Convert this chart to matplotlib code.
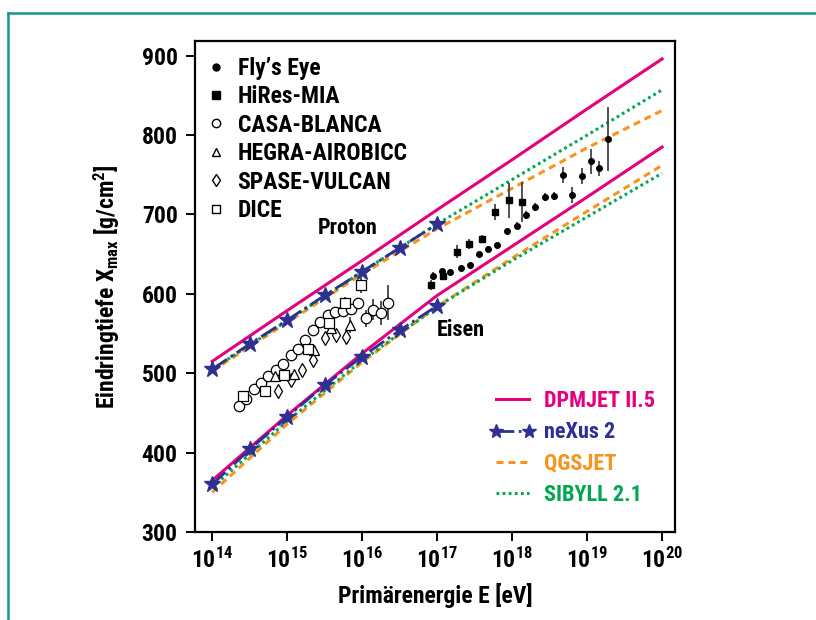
import numpy as np
import matplotlib.pyplot as plt
from matplotlib.lines import Line2D
from matplotlib.ticker import FixedLocator, FuncFormatter

plt.rcParams['font.family'] = ['Roboto Condensed', 'DejaVu Sans']
plt.rcParams['font.weight'] = 'bold'
plt.rcParams['axes.labelweight'] = 'bold'
plt.rcParams['mathtext.fontset'] = 'custom'
plt.rcParams['mathtext.rm'] = 'Roboto Condensed:bold'
plt.rcParams['mathtext.it'] = 'Roboto Condensed:bold'
plt.rcParams['mathtext.bf'] = 'Roboto Condensed:bold'

# model curves (log10 E) - proton and iron
logE_mod = [14, 15, 16, 17, 18, 19, 20]
dpmjet_p = [515, 579, 642, 706, 769, 833, 896]
qgsjet_p = [503, 564, 625, 682, 733, 784, 831]
sibyll_p = [505, 566, 628, 688, 744, 800, 857]
dpmjet_fe = [365, 447, 525, 598, 660, 722, 785]
qgsjet_fe = [350, 436, 514, 584, 645, 704, 762]
sibyll_fe = [356, 440, 516, 584, 642, 697, 752]

logE_nexus = [14, 14.5, 15, 15.5, 16, 16.5, 17]
nexus_p = [505, 537, 567, 598, 628, 658, 688]
nexus_fe = [360, 404, 445, 485, 521, 554, 585]

# measurements
fly_logE = [16.94, 17.06, 17.17, 17.32, 17.44, 17.56, 17.68, 17.80, 17.93, 18.06,
            18.19, 18.31, 18.44, 18.56, 18.68, 18.80, 18.93, 19.05, 19.16, 19.28]
fly_X = [622, 629, 628, 633, 636, 650, 657, 661, 679, 686,
         699, 710, 722, 723, 750, 725, 748, 767, 758, 795]
fly_err = [5, 4, 3, 3, 3, 3, 3, 3, 3, 4, 5, 5, 5, 5, 10, 10, 10, 16, 10, 40]

hires_logE = [16.92, 17.08, 17.26, 17.42, 17.60, 17.77, 17.96, 18.13]
hires_X = [611, 623, 653, 663, 669, 703, 718, 716]
hires_err = [6, 5, 8, 6, 5, 10, 22, 25]

casa_logE = [14.35, 14.45, 14.55, 14.65, 14.75, 14.85, 14.94, 15.05, 15.14, 15.24, 15.35,
             15.44, 15.54, 15.64, 15.74, 15.85, 15.94, 16.05, 16.15, 16.25, 16.35]
casa_X = [459, 468, 480, 488, 497, 504, 512, 523, 531, 542, 555,
          565, 573, 577, 579, 581, 588, 569, 580, 576, 589]
casa_err = [0, 0, 0, 0, 0, 0, 0, 0, 0, 0, 0, 0, 0, 0, 0, 0, 7, 11, 13, 15, 22]

hegra_logE = [14.84, 15.09, 15.36, 15.59, 15.84]
hegra_X = [496, 499, 529, 557, 561]
hegra_err = [0, 0, 0, 0, 10]

spase_logE = [14.88, 15.05, 15.20, 15.35, 15.50, 15.65, 15.79]
spase_X = [477, 492, 504, 517, 545, 548, 546]

dice_logE = [14.41, 14.70, 14.96, 15.28, 15.56, 15.77, 15.99]
dice_X = [471, 477, 498, 530, 563, 588, 611]
dice_err = [5, 6, 6, 6, 7, 8, 10]

PINK = '#E5007D'
NAVY = '#2E3092'
ORANGE = '#F7941D'
GREEN = '#00A651'
DASH = (0, (2.3, 1.6))
DOT = (0, (0.9, 1.1))

E = lambda l: 10.0 ** np.asarray(l)

fig = plt.figure(figsize=(8.16, 6.20), dpi=100)
ax = fig.add_axes([0.239, 0.142, 0.588, 0.7924])

for y in (qgsjet_p, qgsjet_fe):
    ax.plot(E(logE_mod), y, color=ORANGE, lw=2.2, ls=DASH)
for y in (sibyll_p, sibyll_fe):
    ax.plot(E(logE_mod), y, color=GREEN, lw=2.2, ls=DOT)
ax.plot(E(logE_mod), dpmjet_p, color=PINK, lw=2.2)
ax.plot(E(logE_mod), dpmjet_fe, color=PINK, lw=2.2)
for y in (nexus_p, nexus_fe):
    ax.plot(E(logE_nexus), y, color=NAVY, lw=2, ls='-.', marker='*', ms=12, mec=NAVY)

# data
ebar = dict(ls='none', ecolor='#444444', elinewidth=1.3, capsize=0)
ax.errorbar(E(fly_logE), fly_X, yerr=fly_err, fmt='o', ms=4, color='black', **ebar)
ax.errorbar(E(hires_logE), hires_X, yerr=hires_err, fmt='s', ms=5, color='black', **ebar)
ax.errorbar(E(casa_logE), casa_X, yerr=casa_err, fmt='o', ms=7.5, mfc='white', mec='black',
            mew=0.9, **ebar)
ax.errorbar(E(hegra_logE), hegra_X, yerr=hegra_err, fmt='^', ms=7.5, mfc='white', mec='black',
            mew=0.9, **ebar)
ax.plot(E(spase_logE), spase_X, 'd', ms=7, mfc='white', mec='black', mew=0.9, ls='none')
ax.errorbar(E(dice_logE), dice_X, yerr=dice_err, fmt='s', ms=7.5, mfc='white', mec='black',
            mew=0.9, **ebar)

ax.text(E(15.41), 683, 'Proton', fontsize=16, va='center', ha='left')
ax.text(E(17.0), 555, 'Eisen', fontsize=16, va='center', ha='left')

ax.set_xscale('log')
ax.set_xlim(10 ** 13.77, 10 ** 20.17)
ax.set_ylim(300, 919)
ax.xaxis.set_major_locator(FixedLocator(E(range(14, 21))))
ax.xaxis.set_minor_locator(FixedLocator([]))
ax.xaxis.set_major_formatter(FuncFormatter(lambda v, p: r'$10^{%d}$' % round(np.log10(v))))
ax.set_yticks(range(300, 901, 100))
ax.tick_params(direction='out', length=6.5, width=1.4, labelsize=17, pad=6)
ax.tick_params(axis='x', pad=5)
for s in ax.spines.values():
    s.set_linewidth(1.6)

ax.set_xlabel('Primärenergie E [eV]', fontsize=17, labelpad=7)
ax.set_ylabel(r'Eindringtiefe X$_{\mathrm{max}}$ [g/cm$^2$]', fontsize=17, labelpad=14)

# legends
exp_handles = [
    Line2D([], [], ls='none', marker='o', ms=5, color='black'),
    Line2D([], [], ls='none', marker='s', ms=5.5, color='black'),
    Line2D([], [], ls='none', marker='o', ms=6, mfc='white', mec='black'),
    Line2D([], [], ls='none', marker='^', ms=6, mfc='white', mec='black'),
    Line2D([], [], ls='none', marker='d', ms=6, mfc='white', mec='black'),
    Line2D([], [], ls='none', marker='s', ms=6, mfc='white', mec='black'),
]
exp_labels = ['Fly’s Eye', 'HiRes-MIA', 'CASA-BLANCA', 'HEGRA-AIROBICC', 'SPASE-VULCAN', 'DICE']
leg1 = ax.legend(exp_handles, exp_labels, loc='upper left', bbox_to_anchor=(0.0, 0.996),
                 frameon=False, fontsize=17, handlelength=0.6, handletextpad=0.6,
                 labelspacing=0.23, numpoints=1, borderaxespad=0.2)
ax.add_artist(leg1)

mod_handles = [
    Line2D([], [], color=PINK, lw=2.2),
    Line2D([], [], color=NAVY, lw=2, ls='-.', marker='*', ms=10),
    Line2D([], [], color=ORANGE, lw=2.2, ls=DASH),
    Line2D([], [], color=GREEN, lw=2.2, ls=DOT),
]
mod_labels = ['DPMJET II.5', 'neXus 2', 'QGSJET', 'SIBYLL 2.1']
ax.legend(mod_handles, mod_labels, loc='lower right', bbox_to_anchor=(1.0, 0.012),
          frameon=False, fontsize=16, handlelength=2.1, handletextpad=0.35,
          labelspacing=0.42, numpoints=2, labelcolor=[PINK, NAVY, ORANGE, GREEN])

# teal frame on top and left
fig.add_artist(Line2D([0.0098, 0.0098], [0.0, 0.979], color='#17978B', lw=1.8))
fig.add_artist(Line2D([0.0098, 1.0], [0.979, 0.979], color='#17978B', lw=1.8))

fig.savefig('out.png', dpi=100)
